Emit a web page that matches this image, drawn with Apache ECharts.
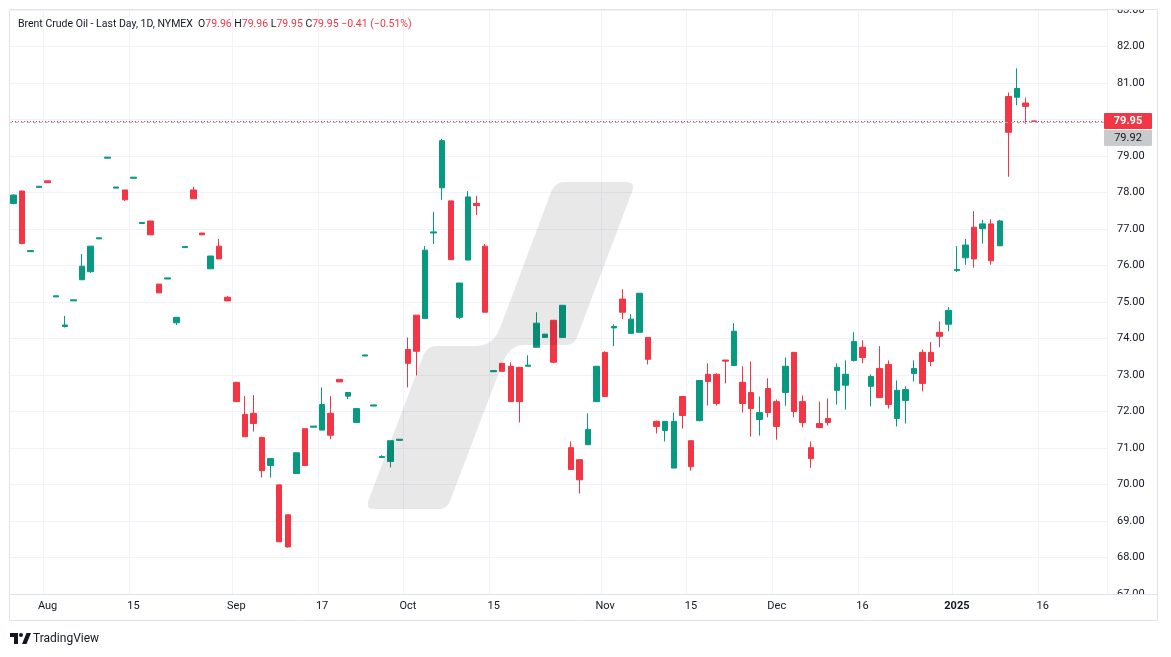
<!DOCTYPE html>
<html>
<head>
<meta charset="utf-8">
<script src="https://cdn.jsdelivr.net/npm/echarts@6/dist/echarts.min.js"></script>
<style>
html,body{margin:0;padding:0;background:#fff;}
#chart{width:1171px;height:657px;}
</style>
</head>
<body>
<div id="chart"></div>
<script>
// Trading days (category axis); the last ones are empty future slots
const dates = [
'2024-07-26','2024-07-29','2024-07-30','2024-07-31','2024-08-01','2024-08-02',
'2024-08-05','2024-08-06','2024-08-07','2024-08-08','2024-08-09',
'2024-08-12','2024-08-13','2024-08-14','2024-08-15','2024-08-16',
'2024-08-19','2024-08-20','2024-08-21','2024-08-22','2024-08-23',
'2024-08-26','2024-08-27','2024-08-28','2024-08-29','2024-08-30',
'2024-09-03','2024-09-04','2024-09-05','2024-09-06',
'2024-09-09','2024-09-10','2024-09-11','2024-09-12','2024-09-13',
'2024-09-16','2024-09-17','2024-09-18','2024-09-19','2024-09-20',
'2024-09-23','2024-09-24','2024-09-25','2024-09-26','2024-09-27',
'2024-09-30','2024-10-01','2024-10-02','2024-10-03','2024-10-04',
'2024-10-07','2024-10-08','2024-10-09','2024-10-10','2024-10-11',
'2024-10-14','2024-10-15','2024-10-16','2024-10-17','2024-10-18',
'2024-10-21','2024-10-22','2024-10-23','2024-10-24','2024-10-25',
'2024-10-28','2024-10-29','2024-10-30','2024-10-31','2024-11-01',
'2024-11-04','2024-11-05','2024-11-06','2024-11-07','2024-11-08',
'2024-11-11','2024-11-12','2024-11-13','2024-11-14','2024-11-15',
'2024-11-18','2024-11-19','2024-11-20','2024-11-21','2024-11-22',
'2024-11-25','2024-11-26','2024-11-27','2024-11-29',
'2024-12-02','2024-12-03','2024-12-04','2024-12-05','2024-12-06',
'2024-12-09','2024-12-10','2024-12-11','2024-12-12','2024-12-13',
'2024-12-16','2024-12-17','2024-12-18','2024-12-19','2024-12-20',
'2024-12-23','2024-12-24','2024-12-26','2024-12-27','2024-12-30','2024-12-31',
'2025-01-02','2025-01-03','2025-01-06','2025-01-07','2025-01-08','2025-01-09','2025-01-10',
'2025-01-13','2025-01-14','2025-01-15','2025-01-16','2025-01-17',
'2025-01-21','2025-01-22','2025-01-23','2025-01-24','2025-01-27','2025-01-28'
];

// Candles: [open, close, low, high]
const candles = [
[77.70,77.93,77.68,77.95],[78.04,76.60,76.58,78.05],[76.38,76.41,76.38,76.41],[78.14,78.17,78.14,78.17],
[78.32,78.27,78.27,78.32],[75.14,75.17,75.14,75.17],[74.33,74.37,74.30,74.62],[75.03,75.06,75.03,75.06],
[75.61,75.98,75.60,76.31],[75.83,76.53,75.80,76.53],[76.73,76.76,76.73,76.76],[78.94,78.97,78.94,78.97],
[78.12,78.15,78.12,78.15],[78.07,77.80,77.77,78.07],[78.39,78.42,78.39,78.42],[77.15,77.18,77.15,77.18],
[77.22,76.84,76.84,77.22],[75.49,75.25,75.25,75.49],[75.63,75.66,75.63,75.66],[74.43,74.58,74.37,74.58],
[76.49,76.52,76.49,76.52],[78.07,77.83,77.83,78.16],[76.89,76.84,76.84,76.89],[75.91,76.26,75.91,76.26],
[76.53,76.18,76.18,76.73],[75.13,75.03,75.03,75.16],
[72.80,72.27,72.27,72.80],[71.92,71.31,71.31,72.42],[71.95,71.67,71.45,72.45],[71.29,70.38,70.19,71.31],
[70.52,70.71,70.19,70.71],[69.99,68.43,68.43,69.99],[69.17,68.29,68.27,69.17],[70.30,70.87,70.30,70.87],
[71.53,70.52,70.52,71.53],[71.57,71.60,71.57,71.60],[71.49,72.19,71.49,72.66],[71.95,71.35,71.24,72.42],
[72.88,72.81,72.81,72.88],[72.42,72.52,72.34,72.52],[71.70,72.08,71.70,72.08],[73.52,73.55,73.52,73.55],
[72.15,72.18,72.15,72.18],[70.74,70.77,70.74,70.80],[70.63,71.20,70.47,71.20],[71.21,71.24,71.21,71.24],
[73.70,73.32,72.66,74.03],[74.64,73.65,72.99,74.64],[74.55,76.42,74.55,76.53],[76.89,76.92,76.59,77.47],
[78.13,79.42,77.80,79.47],[77.77,76.16,76.16,77.77],[74.58,75.52,74.53,75.52],[76.15,77.88,76.15,78.04],
[77.70,77.64,77.38,77.91],[76.53,74.72,74.72,76.59],[73.09,73.12,73.09,73.12],[73.32,73.10,73.10,73.32],
[73.24,72.27,72.27,73.35],[73.21,72.27,71.70,73.21],[73.24,73.27,73.24,73.54],[73.76,74.42,73.76,74.72],
[74.03,74.12,74.03,74.12],[74.50,73.35,73.32,74.50],[74.03,74.91,74.03,74.91],[71.01,70.41,70.41,71.18],
[70.68,70.13,69.75,70.68],[71.09,71.51,71.09,71.95],[72.27,73.24,72.27,73.24],[73.62,72.41,72.41,73.65],
[74.29,74.33,73.79,74.39],[75.08,74.72,74.53,75.35],[74.14,74.53,74.14,74.67],[74.17,75.24,74.17,75.24],
[74.03,73.43,73.29,74.03],[71.73,71.59,71.40,71.75],[71.48,71.73,71.18,71.73],[70.45,71.73,70.45,71.97],
[72.41,71.89,71.53,72.41],[71.20,70.49,70.38,71.20],[71.75,72.85,71.73,72.85],[73.02,72.82,72.16,73.32],
[73.02,72.22,72.16,73.05],[73.41,73.38,72.77,73.41],[73.26,74.20,73.26,74.42],[72.80,72.22,71.97,73.24],
[72.52,72.08,71.31,73.37],[71.78,71.97,71.34,72.41],[72.63,71.97,71.84,72.91],[72.27,71.59,71.23,72.33],
[72.52,73.24,72.16,73.48],[73.62,72.00,71.84,73.62],[72.27,71.70,71.56,72.44],[71.01,70.71,70.46,71.18],
[71.67,71.56,71.56,72.27],[71.81,71.70,71.62,72.36],[72.58,73.21,72.19,73.32],[72.72,73.02,72.05,73.40],
[73.40,73.92,73.37,74.17],[73.76,73.48,73.32,73.95],[72.69,72.96,72.14,73.02],[73.18,72.38,72.38,73.79],
[73.29,72.19,72.08,73.40],[71.81,72.58,71.59,72.85],[72.30,72.60,71.67,72.69],[73.04,73.18,72.82,73.40],
[73.62,72.77,72.55,73.70],[73.62,73.37,73.24,73.90],[74.17,74.06,73.76,74.47],[74.39,74.77,74.20,74.86],
[75.86,75.89,75.82,76.53],[76.21,76.56,76.02,76.73],[77.05,76.18,75.94,77.49],[77.01,77.14,76.60,77.25],
[77.14,76.13,76.02,77.27],[76.54,77.22,76.54,77.25],[80.63,79.65,78.43,80.74],[80.61,80.85,80.39,81.40],
[80.45,80.36,79.88,80.60],[79.96,79.95,79.95,79.96]
];

// X-axis tick labels (date -> label)
const xTickLabels = {
'2024-08-01':'Aug','2024-08-15':'15','2024-09-03':'Sep','2024-09-17':'17',
'2024-10-01':'Oct','2024-10-15':'15','2024-11-01':'Nov','2024-11-15':'15',
'2024-12-02':'Dec','2024-12-16':'16','2025-01-02':'2025','2025-01-16':'16'
};

const yMin = 67, yMax = 83, yStep = 1;
const lastPrice = 79.95;
const refPrice = 79.92;
const header = {
  title: 'Brent Crude Oil - Last Day, 1D, NYMEX',
  o: '79.96', h: '79.96', l: '79.95', c: '79.95', chg: '\u22120.41 (\u22120.51%)'
};

const UP = '#089981', DOWN = '#f23645', TXT = '#131722', GRID = '#f0f3fa', FRAME = '#e0e3eb';
const FONT = 'Roboto, "Noto Sans", sans-serif';
const HF = '10.5px ' + FONT;

const chart = echarts.init(document.getElementById('chart'), null, {renderer: 'canvas'});
const isTick = (idx, val) => xTickLabels[val] !== undefined;

chart.setOption({
  animation: false,
  backgroundColor: '#ffffff',
  grid: {left: 9, right: 64, top: 10, bottom: 63},
  xAxis: {
    type: 'category',
    data: dates,
    boundaryGap: true,
    axisLine: {show: false},
    axisTick: {show: false},
    splitLine: {show: true, interval: isTick, lineStyle: {color: GRID, width: 1}},
    axisLabel: {
      interval: isTick,
      margin: 7,
      color: TXT,
      fontSize: 11,
      fontFamily: FONT,
      formatter: v => {
        const t = xTickLabels[v];
        if (!t) return '';
        return t === '2025' ? '{b|2025}' : t;
      },
      rich: {b: {fontWeight: 'bold', color: TXT, fontSize: 11, fontFamily: FONT}}
    }
  },
  yAxis: {
    type: 'value',
    position: 'right',
    min: yMin, max: yMax, interval: yStep,
    axisLine: {show: false},
    axisTick: {show: false},
    splitLine: {show: true, lineStyle: {color: GRID, width: 1}},
    axisLabel: {
      margin: 10, color: TXT, fontSize: 11, fontFamily: FONT,
      showMinLabel: true, showMaxLabel: true,
      formatter: v => v.toFixed(2)
    }
  },
  series: [{
    type: 'candlestick',
    data: candles,
    barWidth: 6,
    itemStyle: {color: UP, color0: DOWN, borderColor: UP, borderColor0: DOWN, borderWidth: 1},
    markLine: {
      silent: true,
      symbol: ['none', 'none'],
      label: {show: false},
      data: [
        {yAxis: refPrice, lineStyle: {color: '#b2b5be', type: [3, 3], width: 1}},
        {yAxis: lastPrice, lineStyle: {color: DOWN, type: [1, 2], width: 1}}
      ]
    }
  }]
});

// watermark outline (decoration): quadratic rounded corners joined by straight edges
function roundedOutline(segs) {
  const pts = [];
  segs.forEach(s => {
    const [x0, y0, cx, cy, x1, y1] = s;
    for (let k = 0; k <= 6; k++) {
      const t = k / 6;
      pts.push([(1 - t) * (1 - t) * x0 + 2 * (1 - t) * t * cx + t * t * x1,
                (1 - t) * (1 - t) * y0 + 2 * (1 - t) * t * cy + t * t * y1]);
    }
  });
  return pts;
}
const wmPoints = roundedOutline([
  [439, 509, 447, 509, 450, 501],
  [503, 362, 510, 345, 524, 345],
  [566, 345, 574, 345, 577, 337],
  [632, 192, 636, 182, 626, 182],
  [565, 182, 555, 182, 551, 192],
  [500, 328, 493, 346, 476, 346],
  [437, 346, 427, 346, 423, 356],
  [369, 499, 365, 509, 373, 509]
]);

const yLast = chart.convertToPixel({yAxisIndex: 0}, lastPrice);
const W = 1171;
const plotRight = W - 64;

chart.setOption({
  graphic: {elements: [
    {type: 'polygon', z: 50, silent: true, shape: {points: wmPoints}, style: {fill: 'rgba(0,0,0,0.09)'}},
    // clip covers for the price scale
    {type: 'rect', z: 60, silent: true, shape: {x: 0, y: 0, width: W, height: 9}, style: {fill: '#fff'}},
    {type: 'rect', z: 60, silent: true, shape: {x: plotRight + 1, y: 595, width: 49, height: 25}, style: {fill: '#fff'}},
    // frame
    {type: 'rect', z: 70, silent: true, shape: {x: 9.5, y: 9.5, width: 1148, height: 611}, style: {fill: 'none', stroke: FRAME, lineWidth: 1}},
    {type: 'line', z: 70, silent: true, shape: {x1: 9.5, y1: 594.5, x2: 1157.5, y2: 594.5}, style: {stroke: FRAME, lineWidth: 1}},
    // header
    {type: 'text', z: 80, silent: true, x: 18, y: 24,
     style: {
       text: '{d|' + header.title + '\u00a0\u00a0O}{r|' + header.o + '}{d|\u00a0H}{r|' + header.h + '}{d|\u00a0L}{r|' + header.l + '}{d|\u00a0C}{r|' + header.c + '}{r|\u00a0' + header.chg + '}',
       fill: TXT,
       font: HF,
       verticalAlign: 'middle',
       rich: {
         d: {fill: TXT, font: HF},
         r: {fill: DOWN, font: HF}
       }
     }},
    // price labels
    {type: 'rect', z: 80, silent: true, shape: {x: plotRight - 3, y: Math.round(yLast) - 8, width: 48, height: 16, r: 1}, style: {fill: DOWN}},
    {type: 'text', z: 81, silent: true, x: plotRight + 21, y: Math.round(yLast),
     style: {text: lastPrice.toFixed(2), fill: '#ffffff', font: 'bold 11px ' + FONT, align: 'center', verticalAlign: 'middle'}},
    {type: 'rect', z: 80, silent: true, shape: {x: plotRight - 3, y: Math.round(yLast) + 9, width: 48, height: 16, r: 1}, style: {fill: '#c9cacc'}},
    {type: 'text', z: 81, silent: true, x: plotRight + 21, y: Math.round(yLast) + 17,
     style: {text: refPrice.toFixed(2), fill: TXT, font: '11px ' + FONT, align: 'center', verticalAlign: 'middle'}},
    // TradingView logo
    {type: 'rect', z: 80, silent: true, shape: {x: 10, y: 633, width: 8, height: 4}, style: {fill: TXT}},
    {type: 'rect', z: 80, silent: true, shape: {x: 14, y: 633, width: 4, height: 11}, style: {fill: TXT}},
    {type: 'circle', z: 80, silent: true, shape: {cx: 21, cy: 635, r: 2}, style: {fill: TXT}},
    {type: 'polygon', z: 80, silent: true, shape: {points: [[22, 644], [26.5, 633], [31, 633], [26.5, 644]]}, style: {fill: TXT}},
    {type: 'text', z: 80, silent: true, x: 33, y: 639,
     style: {text: 'TradingView', fill: TXT, font: '12px ' + FONT, verticalAlign: 'middle'}}
  ]}
});
</script>
</body>
</html>
